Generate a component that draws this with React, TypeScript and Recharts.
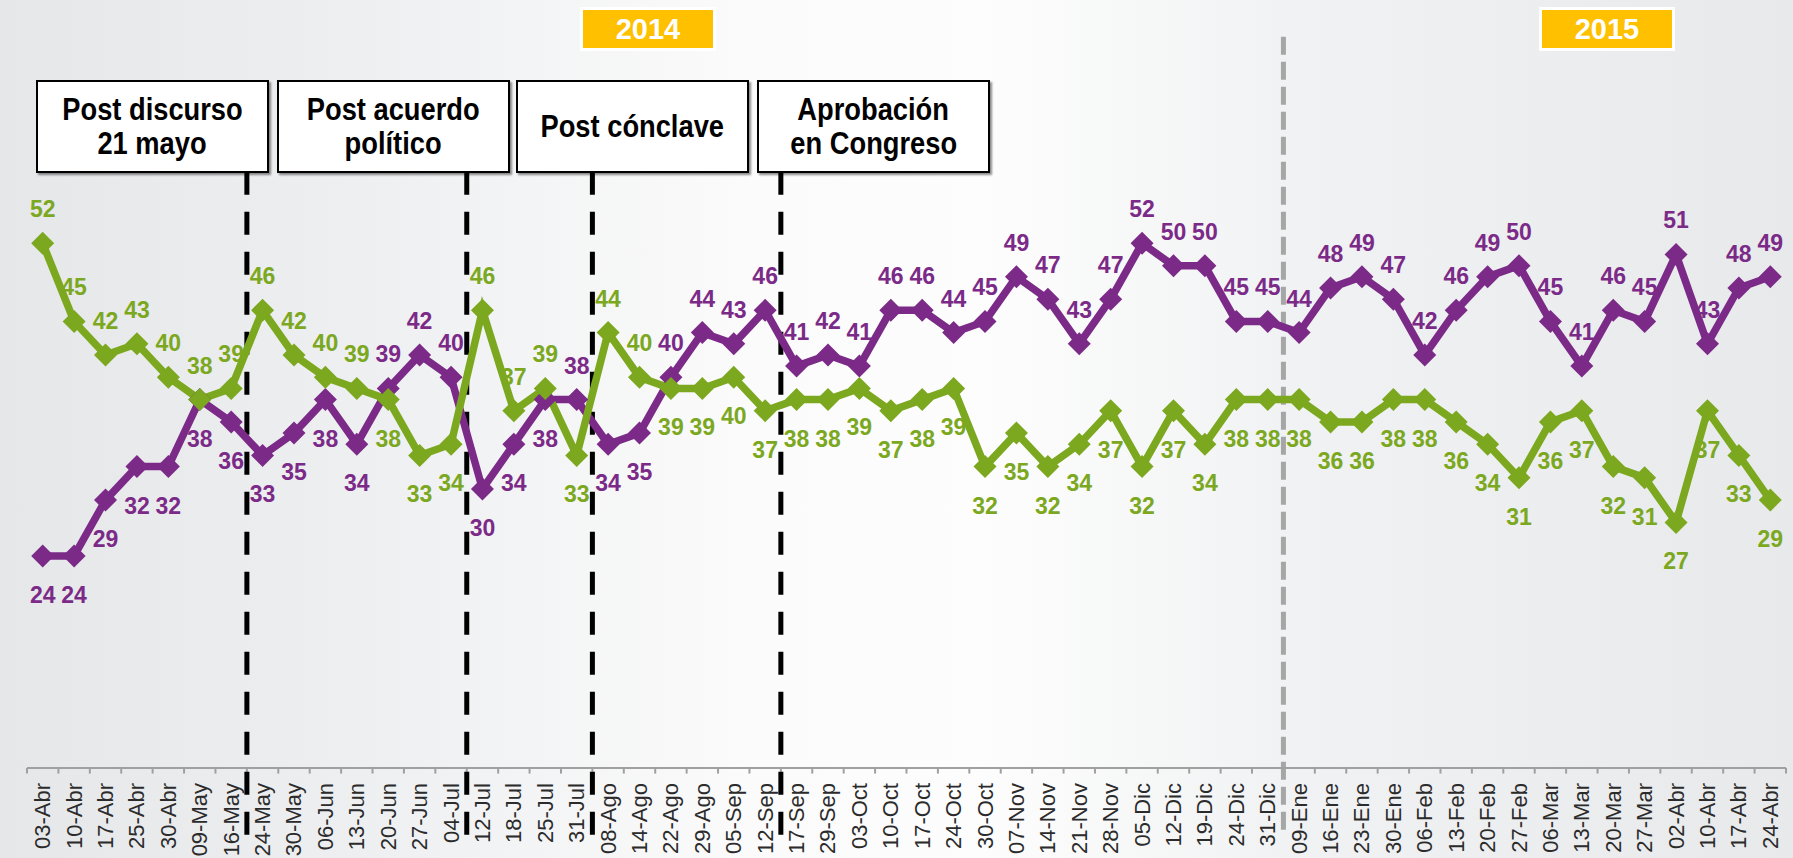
import React from 'react';
import { LineChart, Line, XAxis, YAxis, ReferenceLine, LabelList } from 'recharts';

const fechas = [
  '03-Abr', '10-Abr', '17-Abr', '25-Abr', '30-Abr', '09-May', '16-May', '24-May', '30-May', '06-Jun',
  '13-Jun', '20-Jun', '27-Jun', '04-Jul', '12-Jul', '18-Jul', '25-Jul', '31-Jul', '08-Ago', '14-Ago',
  '22-Ago', '29-Ago', '05-Sep', '12-Sep', '17-Sep', '29-Sep', '03-Oct', '10-Oct', '17-Oct', '24-Oct',
  '30-Oct', '07-Nov', '14-Nov', '21-Nov', '28-Nov', '05-Dic', '12-Dic', '19-Dic', '24-Dic', '31-Dic',
  '09-Ene', '16-Ene', '23-Ene', '30-Ene', '06-Feb', '13-Feb', '20-Feb', '27-Feb', '06-Mar', '13-Mar',
  '20-Mar', '27-Mar', '02-Abr', '10-Abr', '17-Abr', '24-Abr',
];

const serieMorada = [
  24, 24, 29, 32, 32, 38, 36, 33, 35, 38,
  34, 39, 42, 40, 30, 34, 38, 38, 34, 35,
  40, 44, 43, 46, 41, 42, 41, 46, 46, 44,
  45, 49, 47, 43, 47, 52, 50, 50, 45, 45,
  44, 48, 49, 47, 42, 46, 49, 50, 45, 41,
  46, 45, 51, 43, 48, 49,
];

const serieVerde = [
  52, 45, 42, 43, 40, 38, 39, 46, 42, 40,
  39, 38, 33, 34, 46, 37, 39, 33, 44, 40,
  39, 39, 40, 37, 38, 38, 39, 37, 38, 39,
  32, 35, 32, 34, 37, 32, 37, 34, 38, 38,
  38, 36, 36, 38, 38, 36, 34, 31, 36, 37,
  32, 31, 27, 37, 33, 29,
];

// hitos: category boundaries (between two dates)
const cortesHitos = [6.5, 13.5, 17.5, 23.5];
const corteAnio = 39.5;
const textosHitos = [
  ['Post discurso', '21 mayo'],
  ['Post acuerdo', 'político'],
  ['Post cónclave'],
  ['Aprobación', 'en Congreso'],
];
const anios = ['2014', '2015'];

const MORADO = '#7B2A88';
const VERDE = '#7BA81F';
const FONT = '"Liberation Sans", Arial, sans-serif';

const data = fechas.map((f, i) => ({ i, fecha: f, morada: serieMorada[i], verde: serieVerde[i] }));
const bordes = [...fechas.map((_, i) => i - 0.5), fechas.length - 0.5];

const diamond = (color: string) => (p: any) => {
  const { cx, cy, index } = p;
  if (cx == null || cy == null) return <g key={`d-${index}`} />;
  const r = 11.5;
  return (
    <polygon
      key={`d-${index}`}
      points={`${cx},${cy - r} ${cx + r},${cy} ${cx},${cy + r} ${cx - r},${cy}`}
      fill={color}
    />
  );
};

const makeLabel = (color: string, isPurple: boolean) => (p: any) => {
  const x = p.x ?? p.viewBox?.x;
  const y = p.y ?? p.viewBox?.y;
  const i = p.index;
  if (x == null || y == null) return null;
  const purpleAbove = serieMorada[i] > serieVerde[i];
  const above = isPurple ? purpleAbove : !purpleAbove;
  const dy = above ? -34 : 39;
  return (
    <text
      key={`l-${isPurple}-${i}`}
      x={x}
      y={y + dy}
      textAnchor="middle"
      dominantBaseline="central"
      fontSize={23}
      fontWeight="bold"
      fontFamily={FONT}
      fill={color}
    >
      {p.value}
    </text>
  );
};

const TickFecha = (props: any) => {
  const { x, y, payload } = props;
  const label = fechas[Math.round(payload.value)] ?? '';
  return (
    <text
      x={x}
      y={y}
      transform={`rotate(-90 ${x} ${y})`}
      textAnchor="end"
      dominantBaseline="central"
      fontSize={22}
      fontFamily={FONT}
      fill="#2b2b2b"
    >
      {label}
    </text>
  );
};

const boxStyle = (left: number, width: number): React.CSSProperties => ({
  position: 'absolute',
  left,
  top: 80,
  width,
  height: 93,
  boxSizing: 'border-box',
  background: '#fff',
  border: '2.5px solid #000',
  boxShadow: '2px 2px 2px rgba(0,0,0,0.45)',
  display: 'flex',
  flexDirection: 'column',
  alignItems: 'center',
  justifyContent: 'center',
  fontFamily: FONT,
  fontWeight: 'bold',
  fontSize: 31,
  lineHeight: '34px',
  color: '#000',
});

const yearStyle = (left: number): React.CSSProperties => ({
  position: 'absolute',
  left,
  top: 7,
  width: 136,
  height: 44,
  boxSizing: 'border-box',
  background: '#FFC000',
  border: '3px solid #fff',
  display: 'flex',
  alignItems: 'center',
  justifyContent: 'center',
  fontFamily: FONT,
  fontWeight: 'bold',
  fontSize: 29,
  color: '#fff',
});

const boxLefts = [36, 277, 516, 757];
const boxWidths = [233, 233, 233, 233];
const yearLefts = [580, 1539];

export default function App() {
  return (
    <div
      style={{
        position: 'absolute',
        left: 0,
        top: 0,
        width: 1793,
        height: 858,
        overflow: 'hidden',
        background:
          'linear-gradient(to right, #e6e7e9 0%, #eeeff1 20%, #fbfbfb 42%, #fdfdfd 55%, #f1f2f3 72%, #e8e9eb 100%)',
      }}
    >
      <LineChart
        width={1793}
        height={858}
        data={data}
        margin={{ top: 154, right: 7, left: 27, bottom: 0 }}
      >
        <XAxis
          dataKey="i"
          type="number"
          domain={[-0.5, fechas.length - 0.5]}
          ticks={fechas.map((_, i) => i)}
          interval={0}
          height={90}
          axisLine={{ stroke: '#a0a0a0', strokeWidth: 2 }}
          tickLine={false}
          tickSize={6}
          tickMargin={9}
          tick={<TickFecha />}
          allowDataOverflow
        />
        <YAxis hide domain={[5, 60]} allowDataOverflow />
        {bordes.map((b) => (
          <ReferenceLine
            key={`t-${b}`}
            segment={[{ x: b, y: 5 }, { x: b, y: 4.5 }]}
            stroke="#a0a0a0"
            strokeWidth={2}
            ifOverflow="visible"
          />
        ))}
        <ReferenceLine
          segment={[{ x: corteAnio, y: 70.5 }, { x: corteAnio, y: -0.8 }]}
          stroke="#a6a6a6"
          strokeWidth={5}
          strokeDasharray="18 7"
          ifOverflow="visible"
        />
        {cortesHitos.map((c) => (
          <ReferenceLine
            key={`h-${c}`}
            segment={[{ x: c, y: 58.4 }, { x: c, y: -1.2 }]}
            stroke="#000"
            strokeWidth={5}
            strokeDasharray="23 17"
            ifOverflow="visible"
          />
        ))}
        <Line
          dataKey="morada"
          stroke={MORADO}
          strokeWidth={7.5}
          dot={diamond(MORADO)}
          activeDot={false}
          isAnimationActive={false}
        >
          <LabelList dataKey="morada" content={makeLabel(MORADO, true)} />
        </Line>
        <Line
          dataKey="verde"
          stroke={VERDE}
          strokeWidth={7.5}
          dot={diamond(VERDE)}
          activeDot={false}
          isAnimationActive={false}
        >
          <LabelList dataKey="verde" content={makeLabel(VERDE, false)} />
        </Line>
      </LineChart>
      {textosHitos.map((lines, k) => (
        <div key={k} style={boxStyle(boxLefts[k], boxWidths[k])}>
          {lines.map((t) => (
            <span key={t} style={{ display: 'inline-block', transform: 'scaleX(0.88)', whiteSpace: 'nowrap' }}>
              {t}
            </span>
          ))}
        </div>
      ))}
      {anios.map((a, k) => (
        <div key={a} style={yearStyle(yearLefts[k])}>
          {a}
        </div>
      ))}
    </div>
  );
}
